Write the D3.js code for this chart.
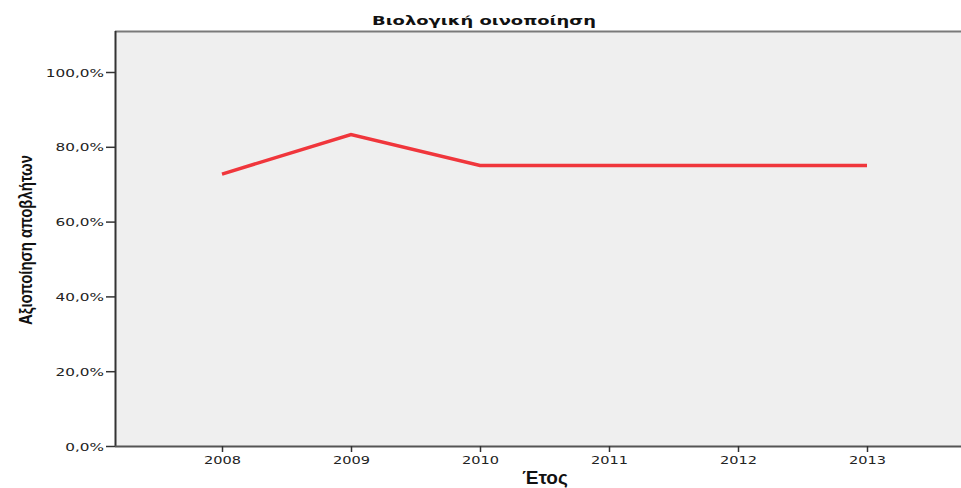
<!DOCTYPE html>
<html><head><meta charset="utf-8">
<script src="https://cdn.jsdelivr.net/npm/d3@7"></script>
<style>body{margin:0;background:#fff}svg{display:block}</style>
</head><body>
<svg id="c" width="961" height="488"></svg>
<script>
const years = ["2008","2009","2010","2011","2012","2013"];
const values = [72.7, 83.3, 75.0, 75.0, 75.0, 75.0];
const yTicks = [0, 20, 40, 60, 80, 100];
const title = "Βιολογική οινοποίηση";
const xTitle = "Έτος";
const yTitle = "Αξιοποίηση αποβλήτων";

(function(){
const svg = d3.select("#c");
const pL = 115, pT = 31, pB = 446, pR = 974;
const x = d3.scalePoint().domain(years).range([222, 867]);
const y = d3.scaleLinear().domain([0, 100]).range([pB, 72]);

svg.append("rect").attr("x", pL).attr("y", pT).attr("width", pR - pL).attr("height", pB - pT)
  .attr("fill", "#efefef");
svg.append("line").attr("x1", pL).attr("x2", 961).attr("y1", pT + 0.5).attr("y2", pT + 0.5)
  .attr("stroke", "#7a7a7a").attr("stroke-width", 2);

const yAxis = svg.append("g").attr("transform", `translate(${pL},0)`)
  .call(d3.axisLeft(y).tickValues(yTicks).tickSize(9).tickPadding(2)
    .tickFormat(d => d.toFixed(1).replace(".", ",") + "%"));
yAxis.select(".domain").attr("d", `M0.5,${pT}V${pB}`).attr("stroke", "#333").attr("stroke-width", 2);
yAxis.selectAll(".tick line").attr("stroke", "#333").attr("stroke-width", 1.5);
yAxis.selectAll(".tick text").attr("font-family", "DejaVu Sans").attr("font-size", 11).attr("fill", "#222")
  .attr("dy", "0.38em")
  .each(function(){ const t=d3.select(this); const n=t.text().length; t.attr("textLength", n*9.7).attr("lengthAdjust","spacingAndGlyphs"); });

const xAxis = svg.append("g").attr("transform", `translate(0,${pB})`)
  .call(d3.axisBottom(x).tickSize(6).tickPadding(4));
xAxis.select(".domain").attr("d", `M${pL},0.5H961`).attr("stroke", "#555").attr("stroke-width", 2);
xAxis.selectAll(".tick line").attr("stroke", "#333").attr("stroke-width", 1.5);
xAxis.selectAll(".tick text").attr("font-family", "DejaVu Sans").attr("font-size", 11).attr("fill", "#222")
  .attr("textLength", 37).attr("lengthAdjust", "spacingAndGlyphs");

svg.append("path").datum(values)
  .attr("d", d3.line().x((d, i) => x(years[i])).y(d => y(d)))
  .attr("fill", "none").attr("stroke", "#f0363c").attr("stroke-width", 3.5);

svg.append("text").attr("x", 484).attr("y", 25).attr("text-anchor", "middle")
  .attr("font-family", "DejaVu Sans").attr("font-weight", "bold").attr("font-size", 13)
  .attr("textLength", 224).attr("lengthAdjust", "spacingAndGlyphs").attr("fill", "#111").text(title);

svg.append("text").attr("x", 545).attr("y", 484).attr("text-anchor", "middle")
  .attr("font-family", "Liberation Sans").attr("font-weight", "bold").attr("font-size", 19)
  .attr("fill", "#111").text(xTitle);

svg.append("text").attr("transform", "translate(32,240) rotate(-90)").attr("text-anchor", "middle")
  .attr("font-family", "Liberation Sans").attr("font-weight", "bold").attr("font-size", 18)
  .attr("textLength", 170).attr("lengthAdjust", "spacingAndGlyphs")
  .attr("fill", "#111").text(yTitle);
})();
</script>
</body></html>
